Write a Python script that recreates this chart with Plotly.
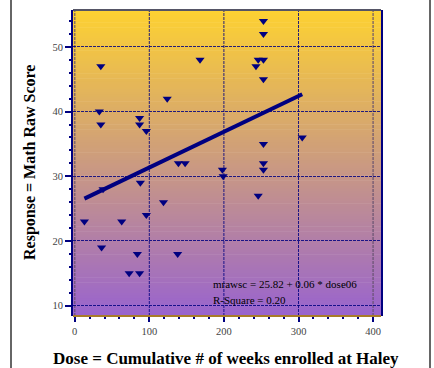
import plotly.graph_objects as go

# ---- data ----
dose = [35, 168, 124, 33, 35, 87, 87, 96, 253, 253, 246, 253, 243, 253, 305, 253,
        139, 148, 38, 88, 119, 13, 63, 96, 36, 84, 138, 73, 87, 198, 199, 253, 253, 246]
score = [47, 48, 42, 40, 38, 39, 38, 37, 54, 52, 48, 48, 47, 45, 36, 35,
         32, 32, 28, 29, 26, 23, 23, 24, 19, 18, 18, 15, 15, 31, 30, 32, 31, 27]
intercept = 25.82
slope = 0.0553
x_ticks = [0, 100, 200, 300, 400]
y_ticks = [10, 20, 30, 40, 50]
eq_text = "mrawsc = 25.82 + 0.06 * dose06"
r2_text = "R-Square = 0.20"
x_title = "Dose = Cumulative # of weeks enrolled at Haley"
y_title = "Response = Math Raw Score"

NAVY = "#000080"
SERIF = "Liberation Serif"
L, R, T, B = 73, 53, 10, 52
W, H = 434, 368
PW, PH = W - L - R, H - T - B
X_RANGE = [-2.3, 410.6]

line_x = [min(dose), max(dose)]
line_y = [intercept + slope * v for v in line_x]

fig = go.Figure()
fig.add_trace(go.Scatter(x=line_x, y=line_y, mode="lines",
                         line=dict(color=NAVY, width=4), hoverinfo="skip"))
fig.add_trace(go.Scatter(x=dose, y=score, mode="markers",
                         marker=dict(symbol="triangle-down", size=8, color=NAVY,
                                     line=dict(width=0))))

# vertical gradient background (gold at top -> purple at bottom)
top = (253, 209, 50)
bot = (153, 100, 206)
n = 120
shapes = []
for i in range(n):
    t = i / (n - 1)
    c = tuple(round(bot[k] + (top[k] - bot[k]) * t) for k in range(3))
    shapes.append(dict(type="rect", xref="paper", yref="paper", x0=0, x1=1,
                       y0=i / n, y1=(i + 1) / n + 0.002, layer="below",
                       line=dict(width=0), fillcolor="rgb(%d,%d,%d)" % c))
# vertical grid lines (edge ones are grayish in the reference)
for v in x_ticks:
    edge = v in (x_ticks[0], x_ticks[-1])
    shapes.append(dict(type="line", xref="x", yref="paper", x0=v, x1=v, y0=0, y1=1,
                       layer="below",
                       line=dict(color="rgba(100,80,110,0.75)" if edge else "rgba(0,0,128,0.85)",
                                 width=1.5 if edge else 1, dash="3px,1px")))
# plot frame: top gray, bottom brown
shapes.append(dict(type="line", xref="paper", yref="paper", x0=0, x1=1, y0=1, y1=1,
                   line=dict(color="#555566", width=2), layer="above"))
shapes.append(dict(type="line", xref="paper", yref="paper", x0=0, x1=1, y0=0, y1=0,
                   line=dict(color="#A87C2A", width=2), layer="above"))
# outer figure border lines (left and right)
for xp in (11, 430):
    xx = (xp - L) / PW
    shapes.append(dict(type="line", xref="paper", yref="paper", x0=xx, x1=xx,
                       y0=-0.2, y1=1.04, line=dict(color="#333333", width=1.5),
                       layer="above"))

fig.update_layout(
    width=W, height=H,
    margin=dict(l=L, r=R, t=T, b=B, autoexpand=False),
    paper_bgcolor="white", plot_bgcolor="rgba(0,0,0,0)",
    showlegend=False,
    shapes=shapes,
    font=dict(family=SERIF, color="#444444", size=10),
)

fig.update_xaxes(
    range=X_RANGE, tickvals=x_ticks, ticks="outside", ticklen=5, tickwidth=2,
    tickcolor=NAVY, showline=False, zeroline=False, automargin=False,
    showgrid=False,
    minor=dict(dtick=20, ticks="outside", ticklen=2, tickwidth=1.5, tickcolor=NAVY, showgrid=False),
    tickfont=dict(family=SERIF, size=10.5, color="#444444"),
)
fig.update_yaxes(
    range=[8.4, 55.7], tickvals=y_ticks, ticks="outside", ticklen=6, tickwidth=2,
    tickcolor=NAVY, showline=True, linecolor=NAVY, linewidth=2, mirror=True,
    zeroline=False, automargin=False,
    showgrid=True, gridcolor="rgba(0,0,128,0.85)", gridwidth=1, griddash="3px,1px",
    minor=dict(dtick=2, ticks="outside", ticklen=2, tickwidth=1.5, tickcolor=NAVY, showgrid=False),
    tickfont=dict(family=SERIF, size=10.5, color="#444444"),
)

# axis titles
fig.add_annotation(x=(226 - L) / PW, y=-(358 - T - PH) / PH, xref="paper", yref="paper",
                   text="<b>%s</b>" % x_title, showarrow=False,
                   xanchor="center", yanchor="middle",
                   font=dict(family=SERIF, size=17, color="black"))
fig.add_annotation(x=(30 - L) / PW, y=1 - (163 - T) / PH, xref="paper", yref="paper",
                   text="<b>%s</b>" % y_title, showarrow=False, textangle=-90,
                   xanchor="center", yanchor="middle",
                   font=dict(family=SERIF, size=16, color="black"))

fig.add_annotation(x=182.7, y=13.4, text=eq_text, showarrow=False, xanchor="left",
                   yanchor="middle", font=dict(family=SERIF, size=11, color="#000000"))
fig.add_annotation(x=182.7, y=10.95, text=r2_text, showarrow=False, xanchor="left",
                   yanchor="middle", font=dict(family=SERIF, size=11, color="#000000"))

fig.write_html("out.html", config={"displayModeBar": False},
               post_script="document.body.style.margin='0px';document.body.style.overflow='hidden';")
